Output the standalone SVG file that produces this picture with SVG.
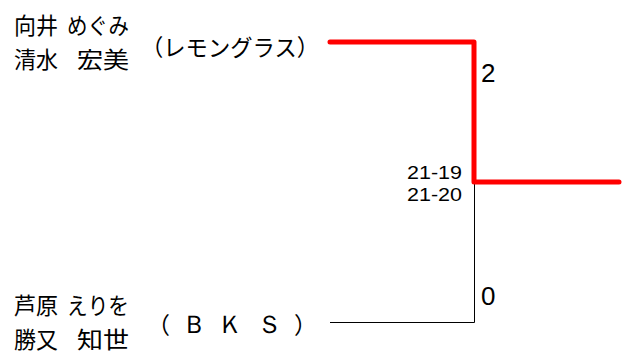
<svg xmlns="http://www.w3.org/2000/svg" width="624" height="354" viewBox="0 0 624 354">
<style>
.t{font-family:"Noto Sans CJK JP","Liberation Sans",sans-serif;fill:#000}
.n{font-size:23px}
.s{font-family:"Liberation Sans",sans-serif;font-size:19px;fill:#000}
.sc{font-family:"Liberation Sans",sans-serif;font-size:26px;fill:#000}
.b{font-family:"Liberation Sans",sans-serif;font-size:25px;fill:#000}
</style>
<rect width="624" height="354" fill="#fff"/>
<g id="connectors">
<polyline points="330,322.5 474.5,322.5 474.5,182" fill="none" stroke="#000" stroke-width="1"/>
<polyline points="330,42 474,42 474,182 619,182" fill="none" stroke="#f00" stroke-width="5" stroke-linecap="round" stroke-linejoin="round"/>
</g>
<g id="team1">
<text class="t n" x="14" y="34" textLength="44" lengthAdjust="spacingAndGlyphs">向井</text>
<text class="t n" x="67" y="34" textLength="62" lengthAdjust="spacingAndGlyphs">めぐみ</text>
<text class="t n" x="14" y="68" textLength="44" lengthAdjust="spacingAndGlyphs">清水</text>
<text class="t n" x="77" y="68" textLength="52" lengthAdjust="spacingAndGlyphs">宏美</text>
<text class="t n" x="141" y="56" textLength="178" lengthAdjust="spacingAndGlyphs">（レモングラス）</text>
</g>
<g id="team2">
<text class="t n" x="14" y="314" textLength="44" lengthAdjust="spacingAndGlyphs">芦原</text>
<text class="t n" x="67" y="314" textLength="62" lengthAdjust="spacingAndGlyphs">えりを</text>
<text class="t n" x="14" y="348" textLength="44" lengthAdjust="spacingAndGlyphs">勝又</text>
<text class="t n" x="77" y="348" textLength="52" lengthAdjust="spacingAndGlyphs">知世</text>
<text class="t n" x="147" y="334">（</text>
<text class="b" x="194" y="333" text-anchor="middle">Ｂ</text>
<text class="b" x="230" y="333" text-anchor="middle">Ｋ</text>
<text class="b" x="269" y="333" text-anchor="middle">Ｓ</text>
<text class="t n" x="294" y="334">）</text>
</g>
<g id="scores">
<text class="sc" x="481" y="82">2</text>
<text class="sc" x="481" y="305">0</text>
<text class="s" x="407" y="179" textLength="55" lengthAdjust="spacingAndGlyphs">21-19</text>
<text class="s" x="407" y="201" textLength="55" lengthAdjust="spacingAndGlyphs">21-20</text>
</g>
</svg>
